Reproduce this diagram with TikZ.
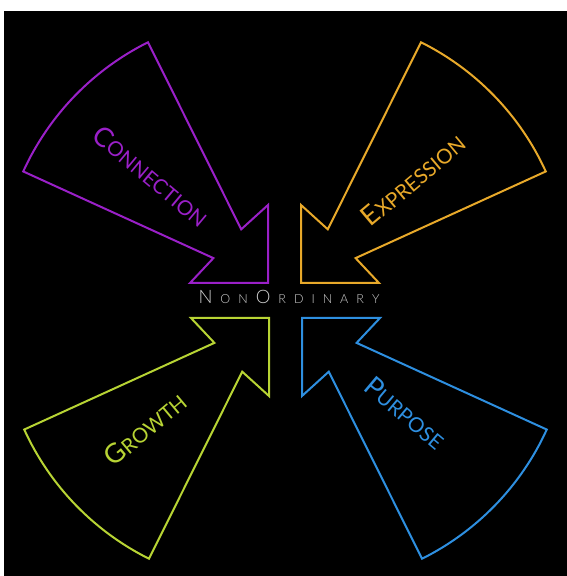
\documentclass[tikz,border=0pt]{standalone}
\usepackage{fontspec}
\setmainfont{Lato}
\IfFontExistsTF{Lato Light}{\newfontfamily\thinfont{Lato Light}}{\newfontfamily\thinfont{Lato}}
\definecolor{cpurple}{HTML}{9A20C8}
\definecolor{corange}{HTML}{E8A92A}
\definecolor{cgreen}{HTML}{B8D434}
\definecolor{cblue}{HTML}{2E8FE0}
\definecolor{ctitle}{HTML}{D0D0D0}
\newcommand\sclabel[2]{{\fontsize{27}{27}\selectfont #1}{\fontsize{20.5}{20.5}\selectfont #2}}
\newcommand\tbig[1]{{\fontsize{18.5}{18.5}\selectfont #1}}
\newcommand\tsml[1]{{\fontsize{12.5}{12.5}\selectfont #1}}
\newcommand\tgap{\kern8pt}
\tikzset{
  arrowpic/.pic={
    \draw[line width=2pt, line join=miter, pic actions]
      (116.5:269) arc[start angle=116.5, end angle=155.5, radius=269]
      -- (155.5:60) -- (-78,0) -- (0,0) -- (0,78) -- (116.5:60) -- cycle;
  },
  lbl/.style={inner sep=0pt}
}
\begin{document}
\begin{tikzpicture}[x=1pt,y=1pt]
\useasboundingbox (0,0) rectangle (567,576);
\fill[white] (0,0) rectangle (567,576);
\fill[black] (4,0) rectangle (567,565);
\pic[draw=cpurple] at (268,293) {arrowpic};
\pic[draw=corange, xscale=-1] at (301,293) {arrowpic};
\pic[draw=cgreen, yscale=-1] at (269,258) {arrowpic};
\pic[draw=cblue, xscale=-1, yscale=-1] at (302,258) {arrowpic};
\node[lbl, text=cpurple, rotate=-40] (tconn) at (151,400) {\sclabel{C}{ONNECTION}};
\node[lbl, text=corange, rotate=40] (texpr) at (413,396) {\sclabel{E}{XPRESSION}};
\node[lbl, text=cgreen, rotate=40] (tgrow) at (145,147) {\sclabel{G}{ROWTH}};
\node[lbl, text=cblue, rotate=-40] (tpurp) at (405,163) {\sclabel{P}{URPOSE}};
\node[inner sep=0pt, text=ctitle, anchor=base] (title) at (289,272) {\thinfont
  \tbig{N}\tgap\tsml{O}\tgap\tsml{N}\tgap\tbig{O}\tgap\tsml{R}\tgap\tsml{D}\tgap\tsml{I}\tgap\tsml{N}\tgap\tsml{A}\tgap\tsml{R}\tgap\tsml{Y}};
\end{tikzpicture}
\end{document}
